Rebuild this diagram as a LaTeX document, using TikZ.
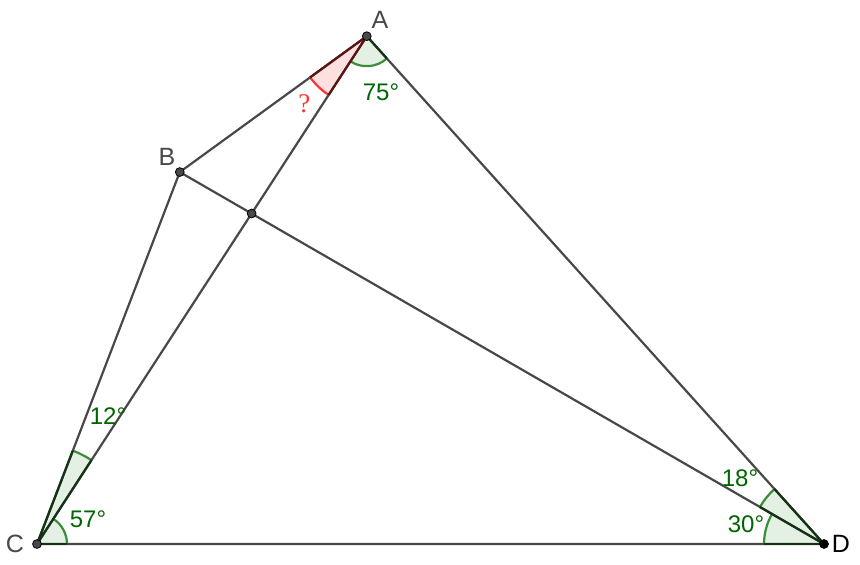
\documentclass[tikz,border=0pt]{standalone}
\usepackage{fontspec}
\setmainfont{Liberation Sans}
\newfontfamily\qfont{Liberation Serif}
\usetikzlibrary{angles,calc}
\definecolor{segcol}{RGB}{72,72,72}
\definecolor{anggreen}{RGB}{0,100,0}
\definecolor{arcgreen}{RGB}{60,140,60}
\definecolor{fillgreen}{RGB}{228,240,228}
\definecolor{edgegreen}{RGB}{20,50,20}
\definecolor{arcred}{RGB}{255,50,50}
\definecolor{fillred}{RGB}{255,224,224}
\definecolor{edgered}{RGB}{90,20,20}
\tikzset{
    seg/.style={segcol, line width=1.1pt, line join=round},
    edge/.style={line width=1.1pt, line join=round},
    pt/.style={circle, fill=segcol, draw=black, line width=0.4pt, inner sep=0pt, minimum size=4.4pt},
    lbl/.style={text=segcol, font=\fontsize{12.5}{15}\selectfont, inner sep=0pt},
    deg/.style={text=anggreen, font=\fontsize{12}{14}\selectfont, inner sep=0pt},
    gsector/.style={draw=arcgreen, fill=fillgreen, line width=1.1pt},
    rsector/.style={draw=arcred, fill=fillred, line width=1.1pt},
}

\begin{document}
\begin{tikzpicture}[x=0.5pt, y=0.5pt]
    \useasboundingbox (0,0) rectangle (860,564);
    \coordinate (C) at (37,20);
    \coordinate (D) at (824,20);
    \coordinate (A) at ($(C)+(57:605.5)$);
    \coordinate (B) at ($(C)+(69:398.4)$);
    \coordinate (E) at (intersection of A--C and B--D);

    % angle sectors
    \pic [gsector, angle radius=15pt] {angle = C--A--D};
    \pic [rsector, angle radius=35pt] {angle = B--A--C};
    \pic [gsector, angle radius=15pt] {angle = D--C--A};
    \pic [gsector, angle radius=50pt] {angle = A--C--B};
    \pic [gsector, angle radius=30pt] {angle = B--D--C};
    \pic [gsector, angle radius=37pt] {angle = A--D--B};

    % triangle sides and diagonals
    \draw [seg] (A) -- (B) -- (C) -- (D) -- (A);
    \draw [seg] (A) -- (C);
    \draw [seg] (B) -- (D);

    % darker sector edges
    \draw [edge, edgered] ($(A)!35pt!(B)$) -- (A) -- ($(A)!35pt!(C)$);
    \draw [edge, edgegreen] ($(C)!50pt!(B)$) -- (C) -- ($(C)!50pt!(A)$);
    \draw [edge, edgegreen] (C) -- ($(C)!15pt!(D)$);
    \draw [edge, edgegreen] ($(A)!15pt!(D)$) -- (A);
    \draw [edge, edgegreen] ($(D)!37pt!(A)$) -- (D) -- ($(D)!37pt!(B)$);
    \draw [edge, edgegreen] (D) -- ($(D)!30pt!(C)$);

    % points
    \node [pt] (a) at (A) {};
    \node [pt] (b) at (B) {};
    \node [pt] (c) at (C) {};
    \node [pt, fill=black] (d) at (D) {};
    \node [pt] (e) at (E) {};

    % labels
    \node [lbl, xshift=6.6pt, yshift=8.1pt] (la) at (A) {A};
    \node [lbl, xshift=-6.4pt, yshift=7.5pt] (lb) at (B) {B};
    \node [lbl, xshift=-11pt] (lc) at (C) {C};
    \node [lbl, text=black, xshift=8.5pt] (ld) at (D) {D};

    \node [deg, xshift=7.1pt, yshift=-27.9pt] (ta) at (A) {75°};
    \node [text=arcred, font=\qfont\fontsize{13.5}{15}\selectfont, inner sep=0pt, xshift=-31.2pt, yshift=-34pt] (tq) at (A) {?};
    \node [deg, xshift=35.5pt, yshift=64pt] (tc1) at (C) {12°};
    \node [deg, xshift=25.5pt, yshift=12.5pt] (tc2) at (C) {57°};
    \node [deg, xshift=-42pt, yshift=33pt] (td1) at (D) {18°};
    \node [deg, xshift=-39pt, yshift=10pt] (td2) at (D) {30°};
\end{tikzpicture}
\end{document}
